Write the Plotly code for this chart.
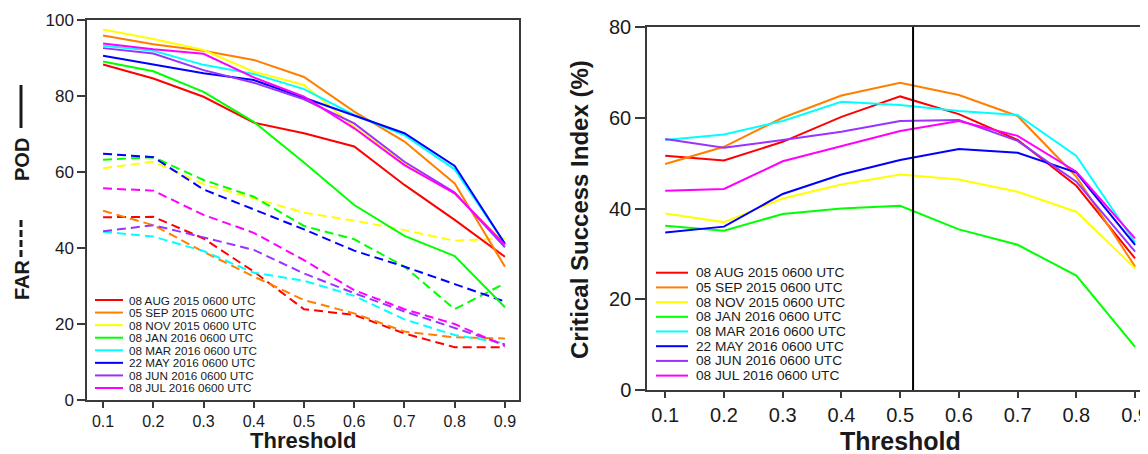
import plotly.graph_objects as go

thresholds = [0.1, 0.2, 0.3, 0.4, 0.5, 0.6, 0.7, 0.8, 0.9]
dates = ["08 AUG 2015 0600 UTC", "05 SEP 2015 0600 UTC", "08 NOV 2015 0600 UTC",
         "08 JAN 2016 0600 UTC", "08 MAR 2016 0600 UTC", "22 MAY 2016 0600 UTC",
         "08 JUN 2016 0600 UTC", "08 JUL 2016 0600 UTC"]
colors = ["#FF0000", "#FF7F00", "#FFFF00", "#00FF00", "#00FFFF", "#0000FF", "#9933FF", "#FF00FF"]

pod_values = [
    [88.3, 84.6, 79.8, 73.0, 70.2, 66.7, 56.6, 47.4, 37.7],
    [95.9, 93.6, 91.9, 89.5, 85.0, 75.9, 68.0, 57.0, 35.1],
    [97.5, 95.0, 92.1, 86.4, 82.9, 71.9, 62.3, 54.4, 41.0],
    [89.1, 86.5, 81.1, 73.2, 62.5, 51.3, 43.2, 37.9, 24.4],
    [93.2, 91.9, 88.2, 85.8, 81.8, 75.0, 69.7, 60.7, 41.2],
    [90.6, 88.3, 86.0, 84.2, 79.5, 75.0, 70.2, 61.6, 41.1],
    [92.6, 91.2, 86.8, 83.5, 79.1, 72.8, 62.7, 54.6, 40.2],
    [93.8, 92.3, 91.1, 84.9, 79.8, 71.5, 61.8, 54.4, 40.9],
]
far_values = [
    [48.1, 48.2, 42.5, 33.8, 23.9, 22.4, 17.5, 13.9, 13.9],
    [49.8, 46.0, 39.0, 32.5, 26.3, 22.8, 18.0, 16.5, 16.2],
    [61.0, 62.7, 56.8, 53.1, 49.3, 47.2, 44.7, 41.9, 42.5],
    [63.2, 63.9, 57.9, 53.5, 45.8, 42.3, 35.1, 23.9, 30.7],
    [44.3, 43.0, 39.2, 33.5, 31.4, 27.4, 21.2, 17.1, 14.9],
    [64.8, 63.9, 55.4, 50.2, 44.9, 39.3, 35.1, 30.5, 25.9],
    [44.4, 46.0, 42.8, 39.5, 33.3, 28.1, 23.3, 18.9, 14.6],
    [55.7, 55.1, 48.7, 44.0, 36.8, 28.9, 23.9, 20.0, 14.2],
]
csi_values = [
    [51.6, 50.6, 54.7, 60.2, 64.7, 60.8, 55.1, 45.0, 29.0],
    [49.8, 53.6, 60.0, 64.9, 67.7, 65.0, 60.4, 47.0, 27.2],
    [38.9, 37.0, 42.2, 45.3, 47.5, 46.4, 43.7, 39.3, 26.8],
    [36.2, 35.1, 38.8, 40.0, 40.6, 35.4, 32.0, 25.2, 9.5],
    [55.1, 56.3, 59.3, 63.5, 62.8, 61.5, 60.6, 51.6, 32.5],
    [34.7, 36.0, 43.2, 47.5, 50.7, 53.1, 52.3, 47.9, 32.0],
    [55.3, 53.4, 55.1, 56.9, 59.3, 59.5, 54.9, 45.9, 30.5],
    [43.9, 44.3, 50.4, 53.8, 57.1, 59.3, 56.0, 48.1, 33.4],
]
csi_marker_threshold = 0.522

# page has an 8px body margin: figure is sized to fill the rest of the window
OFF = 8
W, H = 1148 - OFF, 454 - OFF
FONT = "Arial, 'Liberation Sans', sans-serif"
AX = "#3a3a3a"
TXT = "#1a1a1a"


def px(x):
    return (x - OFF) / W


def py(y):
    return 1 - (y - OFF) / H


fig = go.Figure()

for name, c, far in zip(dates, colors, far_values):
    fig.add_trace(go.Scatter(x=thresholds, y=far, mode="lines", name=name, showlegend=False,
                             line=dict(color=c, width=2, dash="9px,5px"), xaxis="x", yaxis="y"))
for name, c, pod in zip(dates, colors, pod_values):
    fig.add_trace(go.Scatter(x=thresholds, y=pod, mode="lines", name=name, showlegend=False,
                             line=dict(color=c, width=2), xaxis="x", yaxis="y"))
for name, c, csi in zip(dates, colors, csi_values):
    fig.add_trace(go.Scatter(x=thresholds, y=csi, mode="lines", name=name, showlegend=False,
                             line=dict(color=c, width=2), xaxis="x2", yaxis="y2"))

axis_common = dict(showline=True, linecolor=AX, linewidth=1.5, showgrid=False, zeroline=False,
                   ticks="outside", tickcolor=AX, tickwidth=1.5, automargin=False,
                   ticklabeloverflow="allow")

fig.update_layout(
    width=W, height=H,
    margin=dict(l=0, r=0, t=0, b=0),
    paper_bgcolor="white", plot_bgcolor="white",
    font=dict(family=FONT, color=TXT),
    showlegend=False,
    xaxis=dict(domain=[px(87), px(519)], range=[0.068, 0.928], tickvals=thresholds,
               ticktext=[f"{t:.1f}" for t in thresholds], ticklen=6, mirror=True,
               tickfont=dict(size=16, family=FONT, color=TXT), anchor="y", **axis_common),
    yaxis=dict(domain=[py(400), py(20)], range=[0, 100], tickvals=[0, 20, 40, 60, 80, 100],
               ticklen=8, mirror=True, tickfont=dict(size=17, family=FONT, color=TXT),
               anchor="x", **axis_common),
    xaxis2=dict(domain=[px(647), 1.0], range=[0.069, 0.922], tickvals=thresholds,
                ticktext=[f"{t:.1f}" for t in thresholds], ticklen=6, mirror=True,
                tickfont=dict(size=20, family=FONT, color=TXT), anchor="y2", **axis_common),
    yaxis2=dict(domain=[py(390), py(27)], range=[0, 80], tickvals=[0, 20, 40, 60, 80],
                ticklen=10, mirror=False, tickfont=dict(size=20, family=FONT, color=TXT),
                anchor="x2", **axis_common),
)

# vertical marker line in CSI panel
fig.add_shape(type="line", xref="x2", yref="y2 domain", x0=csi_marker_threshold,
              x1=csi_marker_threshold, y0=0, y1=1, line=dict(color="black", width=2))

annotations = [
    dict(text="<b>Threshold</b>", x=px(303), y=py(440), font=dict(size=22)),
    dict(text="<b>Threshold</b>", x=px(900), y=py(441), font=dict(size=25)),
    dict(text="<b>FAR</b>", x=px(22), y=py(280), textangle=-90, font=dict(size=20)),
    dict(text="<b>POD</b>", x=px(22), y=py(160), textangle=-90, font=dict(size=20)),
    dict(text="<b>Critical Success Index (%)</b>", x=px(579), y=py(210), textangle=-90,
         font=dict(size=24)),
]
for a in annotations:
    a.update(xref="paper", yref="paper", showarrow=False, xanchor="center", yanchor="middle")
    a["font"].update(family=FONT, color=TXT)
    fig.add_annotation(**a)

# line-style keys inside the left axis title (dashed = FAR, solid = POD)
fig.add_shape(type="line", xref="paper", yref="paper", x0=px(21), x1=px(21), y0=py(257),
              y1=py(218), line=dict(color=TXT, width=3, dash="7px,3px"))
fig.add_shape(type="line", xref="paper", yref="paper", x0=px(21), x1=px(21), y0=py(128),
              y1=py(85), line=dict(color=TXT, width=3))


# custom legends (compact spacing like the reference)
def add_legend(x0, x1, xt, y0, dy, size):
    for i, (name, c) in enumerate(zip(dates, colors)):
        yy = y0 + i * dy
        fig.add_shape(type="line", xref="paper", yref="paper", x0=px(x0), x1=px(x1),
                      y0=py(yy), y1=py(yy), line=dict(color=c, width=2))
        fig.add_annotation(text=name, xref="paper", yref="paper", x=px(xt), y=py(yy),
                           xanchor="left", yanchor="middle", showarrow=False,
                           font=dict(size=size, family=FONT, color=TXT))


add_legend(95, 123, 127, 300, 12.57, 11.7)
add_legend(656, 688, 694, 272.7, 14.7, 13.7)

fig.write_html("out.html")
